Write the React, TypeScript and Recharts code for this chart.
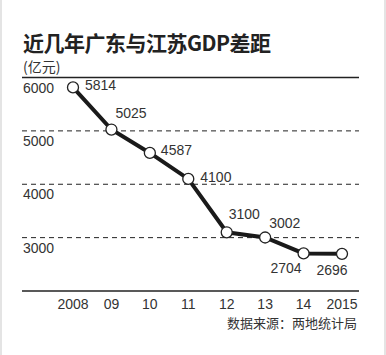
import { LineChart, Line, XAxis, YAxis, ReferenceLine, LabelList } from 'recharts';

const years = ['2008', '09', '10', '11', '12', '13', '14', '2015'];
const gap = [5814, 5025, 4587, 4100, 3100, 3002, 2704, 2696];
const yTicks = [3000, 4000, 5000, 6000];
const dashedLevels = [3000, 4000, 5000];

// where each value label sits around its dot
const labelPlace = [
  { dx: 12, dy: -2, anchor: 'start' },
  { dx: 4, dy: -17, anchor: 'start' },
  { dx: 11, dy: -3, anchor: 'start' },
  { dx: 12, dy: -2, anchor: 'start' },
  { dx: 2, dy: -18, anchor: 'start' },
  { dx: 4, dy: -15, anchor: 'start' },
  { dx: -2, dy: 15, anchor: 'end' },
  { dx: -10, dy: 16, anchor: 'middle' },
];

const data = years.map((y, i) => ({ year: y, value: gap[i] }));

const font = '"Liberation Sans", Arial, "Noto Sans CJK SC", sans-serif';

const YTick = (props: any) => {
  const { y, payload } = props;
  return (
    <text x={23} y={y + 10} fontSize={14} fill="#333" fontFamily={font} dominantBaseline="central">
      {payload.value}
    </text>
  );
};

const XTick = (props: any) => {
  const { x, payload } = props;
  return (
    <text x={x} y={304} fontSize={14} fill="#333" fontFamily={font} textAnchor="middle" dominantBaseline="central">
      {payload.value}
    </text>
  );
};

const ValueLabel = (props: any) => {
  const { x, y, value, index } = props;
  const p = labelPlace[index];
  return (
    <text x={x + p.dx} y={y + p.dy} fontSize={14} fill="#333" fontFamily={font} textAnchor={p.anchor} dominantBaseline="central">
      {value}
    </text>
  );
};

export default function App() {
  return (
    <div
      style={{
        position: 'absolute',
        left: 0,
        top: 0,
        width: 386,
        height: 355,
        background: '#fff',
        borderLeft: '2px solid #e4e4e4',
        borderRight: '2px solid #e4e4e4',
        boxSizing: 'border-box',
        fontFamily: font,
      }}
    >
      <div style={{ position: 'absolute', left: 21, top: 29, fontSize: 21, fontWeight: 'bold', color: '#222', fontFamily: '"Noto Sans CJK SC", sans-serif', lineHeight: '26px', letterSpacing: -0.5 }}>
        近几年广东与江苏GDP差距
      </div>
      <div style={{ position: 'absolute', left: 21, top: 57, fontSize: 14, color: '#333', fontFamily: '"Noto Sans CJK SC", sans-serif', lineHeight: '18px' }}>
        (亿元)
      </div>
      <div style={{ position: 'absolute', right: 27, top: 314, fontSize: 13, color: '#333', fontFamily: '"Noto Sans CJK SC", sans-serif', lineHeight: '18px' }}>
        数据来源：两地统计局
      </div>
      <div style={{ position: 'absolute', left: -2, top: 0 }}>
        <LineChart width={386} height={355} data={data} margin={{ top: 77.5, right: 27, bottom: 34, left: 21 }}>
          <XAxis dataKey="year" axisLine={false} tickLine={false} height={30} padding={{ left: 51, right: 17 }} tick={<XTick />} interval={0} />
          <YAxis domain={[2000, 6000]} ticks={yTicks} width={1} interval={0} axisLine={false} tickLine={false} tick={<YTick />} />
          {dashedLevels.map((v) => (
            <ReferenceLine key={v} y={v} stroke="#222" strokeDasharray="5 4" strokeWidth={1} ifOverflow="visible" />
          ))}
          <ReferenceLine y={6000} stroke="#222" strokeWidth={1.3} ifOverflow="visible" />
          <ReferenceLine y={2000} stroke="#222" strokeWidth={1.3} ifOverflow="visible" />
          <Line
            dataKey="value"
            stroke="#1a1a1a"
            strokeWidth={4}
            isAnimationActive={false}
            dot={{ r: 5.5, fill: '#fff', stroke: '#222', strokeWidth: 1.3 }}
          >
            <LabelList dataKey="value" content={<ValueLabel />} />
          </Line>
        </LineChart>
      </div>
    </div>
  );
}
